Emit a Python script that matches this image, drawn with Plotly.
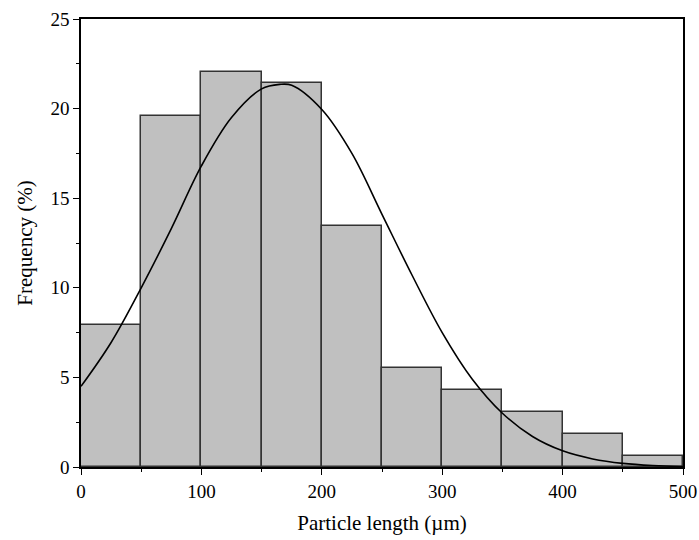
import plotly.graph_objects as go

# Histogram bins (µm) and frequencies (%)
bin_left = [0, 50, 100, 150, 200, 250, 300, 350, 400, 450]
bin_width = 50
freq = [7.95, 19.6, 22.05, 21.45, 13.45, 5.5, 4.3, 3.05, 1.83, 0.62]

# Fitted curve
curve_x = [0, 25, 50, 75, 100, 125, 150, 165, 175, 200, 225, 250, 275, 300, 325, 350, 375, 400, 425, 450, 475, 500]
curve_y = [4.5, 6.95, 10.0, 13.3, 16.8, 19.5, 21.1, 21.35, 21.3, 19.95, 17.5, 14.1, 10.7, 7.5, 4.9, 3.0, 1.7, 0.9, 0.45, 0.2, 0.08, 0.03]

x_ticks = [0, 100, 200, 300, 400, 500]
y_ticks = [0, 5, 10, 15, 20, 25]

font_family = "Liberation Serif"

fig = go.Figure()
fig.add_trace(go.Bar(
    x=[b + bin_width / 2 for b in bin_left],
    y=freq,
    width=[bin_width] * len(bin_left),
    marker=dict(color="#c0c0c0", line=dict(color="#333333", width=1.5)),
    showlegend=False,
    hoverinfo="skip",
))
fig.add_trace(go.Scatter(
    x=curve_x, y=curve_y, mode="lines",
    line=dict(color="black", width=1.6, shape="spline", smoothing=1.0),
    showlegend=False,
    hoverinfo="skip",
))

axis_common = dict(
    showline=True, linecolor="black", linewidth=1.5, mirror=True,
    ticks="outside", ticklen=6, tickwidth=1.2, tickcolor="black",
    showgrid=False, zeroline=False, automargin=False,
    tickfont=dict(family=font_family, size=19, color="black"),
)

fig.update_xaxes(
    range=[0, 500], tickvals=x_ticks,
    minor=dict(ticks="outside", ticklen=3, tickwidth=1.2, tickcolor="black", dtick=50, tick0=0, showgrid=False),
    title=dict(text="Particle length (µm)", font=dict(family=font_family, size=21, color="black"), standoff=15),
    **axis_common,
)
fig.update_yaxes(
    range=[0, 25], tickvals=y_ticks,
    minor=dict(ticks="outside", ticklen=3, tickwidth=1.2, tickcolor="black", dtick=2.5, tick0=0, showgrid=False),
    title=dict(text="Frequency (%)", font=dict(family=font_family, size=21, color="black"), standoff=12),
    **axis_common,
)

fig.update_layout(
    width=699, height=540,
    margin=dict(l=81, r=16, t=19, b=73),
    plot_bgcolor="white", paper_bgcolor="white",
    bargap=0,
)

fig.write_html("out.html", config={"displayModeBar": False},
               post_script="document.body.style.margin='0';")
